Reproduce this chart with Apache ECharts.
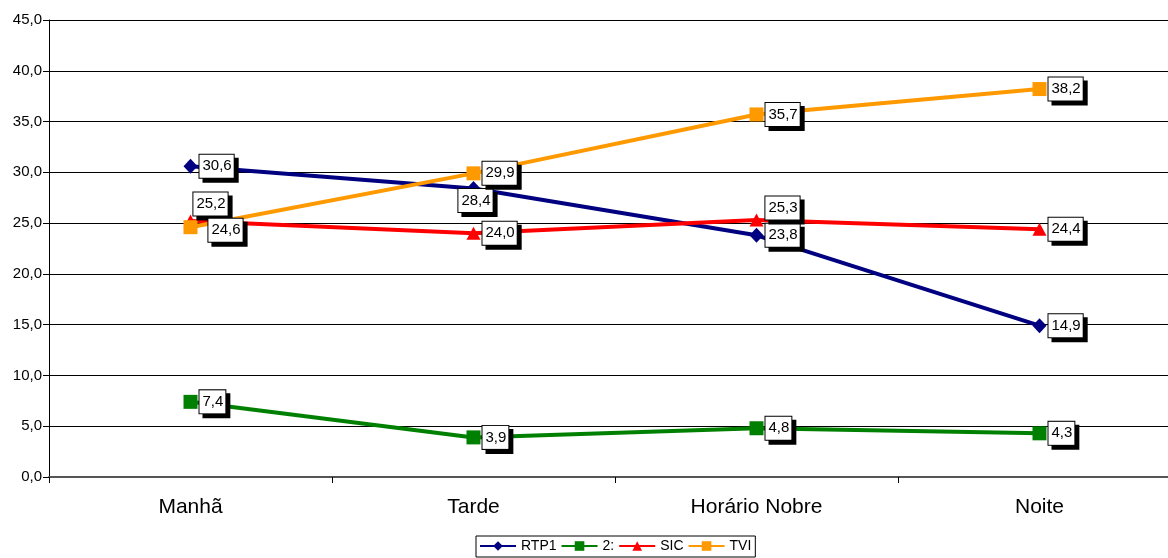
<!DOCTYPE html>
<html>
<head>
<meta charset="utf-8">
<script src="https://cdn.jsdelivr.net/npm/echarts@6/dist/echarts.min.js"></script>
<style>
html,body{margin:0;padding:0;background:#fff;overflow:hidden;}
#chart{width:1181px;height:558px;}
</style>
</head>
<body>
<div id="chart"></div>
<script>
const categories = ['Manhã', 'Tarde', 'Horário Nobre', 'Noite'];
const rtp1 = [30.6, 28.4, 23.8, 14.9];
const rtp2 = [7.4, 3.9, 4.8, 4.3];
const sic = [25.2, 24.0, 25.3, 24.4];
const tvi = [24.6, 29.9, 35.7, 38.2];

const FONT = '"Liberation Sans", Arial, sans-serif';
const fmt = v => v.toFixed(1).replace('.', ',');

const baseLabel = {
  show: true,
  position: 'right',
  distance: 2,
  formatter: p => fmt(p.value),
  fontFamily: FONT,
  fontSize: 15,
  lineHeight: 16,
  color: '#000',
  backgroundColor: '#fff',
  borderColor: '#000',
  borderWidth: 1,
  padding: [4, 2, 3, 3],
  shadowColor: '#000',
  shadowBlur: 0,
  shadowOffsetX: 4,
  shadowOffsetY: 4
};

// per-point label placement tweaks (style only)
const labelTweaks = {
  'RTP1': {1: {position: 'inside', offset: [2, 12]}},
  'SIC': {0: {position: 'inside', offset: [20, -17]}, 2: {position: 'inside', offset: [26, -12]}},
  'TVI': {0: {position: 'inside', offset: [35, 3]}}
};

function mkData(name, vals) {
  return vals.map((v, i) => {
    const t = (labelTweaks[name] || {})[i];
    return t ? {value: v, label: t} : {value: v};
  });
}

function mkSeries(name, vals, color, symbol, size) {
  return {
    name: name,
    type: 'line',
    data: mkData(name, vals),
    symbol: symbol,
    symbolSize: size,
    showAllSymbol: true,
    lineStyle: {color: color, width: 4},
    itemStyle: {color: color},
    label: baseLabel,
    emphasis: {disabled: true},
    animation: false
  };
}

const chart = echarts.init(document.getElementById('chart'), null, {renderer: 'canvas'});
chart.setOption({
  animation: false,
  backgroundColor: '#fff',
  grid: {left: 49, right: 0, top: 20, bottom: 81, containLabel: false},
  legend: {
    data: ['RTP1', '2:', 'SIC', 'TVI'],
    left: 476,
    top: 536,
    borderColor: '#000',
    borderWidth: 1,
    padding: [3, 4, 4, 3],
    itemWidth: 36,
    itemHeight: 12,
    itemGap: 4,
    textStyle: {fontFamily: FONT, fontSize: 14, color: '#000'}
  },
  xAxis: {
    type: 'category',
    data: categories,
    boundaryGap: true,
    axisLine: {lineStyle: {color: '#555', width: 2}},
    axisTick: {show: true, length: 6, lineStyle: {color: '#000'}},
    axisLabel: {fontFamily: FONT, fontSize: 21, color: '#000', margin: 20}
  },
  yAxis: {
    type: 'value',
    min: 0,
    max: 45,
    interval: 5,
    axisLine: {show: true, lineStyle: {color: '#000', width: 1}},
    axisTick: {show: true, length: 6, lineStyle: {color: '#000'}},
    axisLabel: {fontFamily: FONT, fontSize: 15, color: '#000', margin: 7, formatter: v => fmt(v)},
    splitLine: {show: true, lineStyle: {color: '#000', width: 1}}
  },
  series: [
    mkSeries('RTP1', rtp1, '#000080', 'diamond', [14, 15]),
    mkSeries('2:', rtp2, '#008000', 'rect', 14),
    mkSeries('SIC', sic, '#FF0000', 'triangle', [14, 13]),
    mkSeries('TVI', tvi, '#FF9900', 'rect', 14)
  ]
});
</script>
</body>
</html>
